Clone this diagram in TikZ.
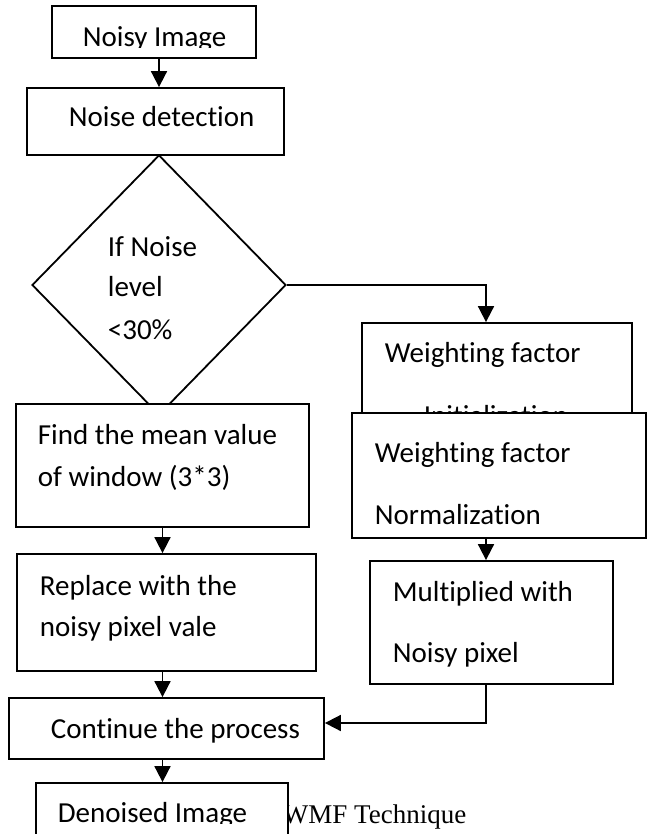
\documentclass[tikz,border=0pt]{standalone}
\usepackage{fontspec}
\setmainfont{Carlito}[Ligatures=NoCommon]
\newfontfamily\capfont{Liberation Serif}
\usetikzlibrary{arrows.meta, shapes.geometric}

\begin{document}
\begin{tikzpicture}[x=1pt, y=-1pt, line width=1.8pt,
        box/.style={draw, fill=white, inner sep=0pt},
        lbl/.style={anchor=base west, inner sep=0pt, font=\fontsize{29}{35}\selectfont},
        arr/.style={-{Triangle[length=16pt, width=16pt]}}]
        \useasboundingbox (0,0) rectangle (651,834);
        \clip (0,0) rectangle (651,834);

        % Top of the chart
        \node[box, minimum width=204pt, minimum height=52pt] (noisy) at (154,32) {};
        \begin{scope}
            \clip (53,7) rectangle (255,47.5);
            \node[lbl] (t-noisy) at (82,46.5) {Noisy Image};
        \end{scope}
        \node[box, minimum width=257pt, minimum height=67pt] (detect) at (155.5,121.5) {};
        \node[lbl] (t-detect) at (68,127) {Noise detection};

        % Decision
        \node[diamond, draw, minimum width=254pt, minimum height=260pt, inner sep=0pt] (check) at (159,285) {};
        \foreach \py/\txt [count=\i] in {256/If Noise, 296/level, 339/<30\%}
            \node[lbl] (t-check\i) at (107,\py) {\txt};

        % Left column
        \node[box, minimum width=293pt, minimum height=123pt] (find) at (162.5,465.5) {};
        \node[box, minimum width=299pt, minimum height=117pt] (replace) at (166.5,612.5) {};
        \node[box, minimum width=315pt, minimum height=61pt] (cont) at (166.5,728.5) {};
        \foreach \px/\py/\txt [count=\i] in {37/444/Find the mean value, 37/486/of window (3*3),
                39/595/Replace with the, 39/636/noisy pixel vale, 50/738/Continue the process}
            \node[lbl] (t-left\i) at (\px,\py) {\txt};

        % Caption, partly under the last box
        \node[anchor=base west, inner sep=0pt, font=\capfont\fontsize{27}{32}\selectfont] (caption) at (282,823) {WMF Technique};
        \node[box, minimum width=252pt, minimum height=57pt] (denoised) at (162,811.5) {};
        \begin{scope}
            \clip (37,784) rectangle (287,823.5);
            \node[lbl] (t-denoised) at (57,822) {Denoised Image};
        \end{scope}

        % Right column
        \node[box, minimum width=270pt, minimum height=127pt] (init) at (497,386.5) {};
        \node[lbl] (t-init1) at (384,362) {Weighting factor};
        \node[lbl] (t-init2) at (423,425) {Initialization};
        \node[box, minimum width=294pt, minimum height=125pt] (norm) at (499,475.5) {};
        \node[box, minimum width=243pt, minimum height=123pt] (mult) at (491.5,622.5) {};
        \foreach \py/\txt [count=\i] in {462/Weighting factor, 524/Normalization}
            \node[lbl] (t-norm\i) at (374,\py) {\txt};
        \foreach \py/\txt [count=\i] in {601/Multiplied with, 662/Noisy pixel}
            \node[lbl] (t-mult\i) at (392,\py) {\txt};

        % Connectors
        \coordinate (rcol) at (486,285);
        \coordinate (join) at (486,723);
        \draw[arr] (noisy.south -| check.north) -- (detect.north -| check.north);
        \draw[arr] (check.east) -- (rcol) -- (rcol |- init.north);
        \draw[arr] (norm.south -| rcol) -- (mult.north -| rcol);
        \draw[arr] (mult.south -| rcol) -- (join) -- (join -| cont.east);
        \draw[arr] (find.south) -- (find.south |- replace.north);
        \draw[arr] (replace.south -| find.south) -- (cont.north -| find.south);
        \draw[arr] (cont.south -| find.south) -- (denoised.north -| find.south);
    \end{tikzpicture}
\end{document}
